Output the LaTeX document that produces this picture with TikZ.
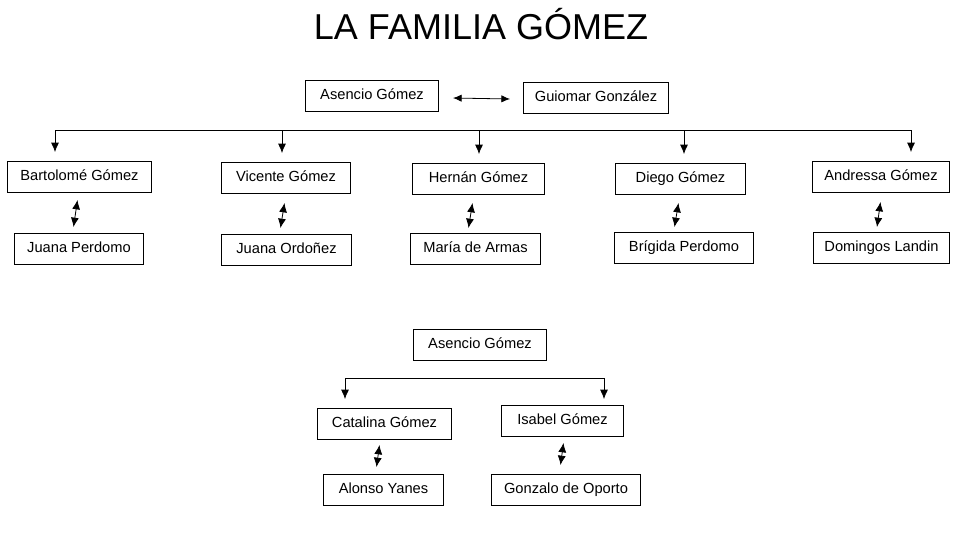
\documentclass[tikz,border=0pt]{standalone}
\usepackage{fontspec}
\setmainfont{Liberation Sans}
\usetikzlibrary{arrows.meta}

\tikzset{
  person/.style={draw, line width=0.75pt, anchor=north west, minimum width=#1,
    minimum height=23.25pt, inner sep=0pt, text height=8pt, text depth=2.75pt,
    font=\fontsize{11}{13}\selectfont},
  link/.style={line width=0.6pt, >={Latex[length=7pt,width=6pt]}}
}

\begin{document}
\begin{tikzpicture}[x=0.75pt, y=-0.75pt]
\useasboundingbox (0,0) rectangle (960,540);

% Title
\node[anchor=base, font=\fontsize{27}{32}\selectfont] (title) at (481,39) {LA FAMILIA GÓMEZ};

% Parents
\node[person=99.75pt] (asencio) at (305,80) {Asencio Gómez};
\node[person=108.75pt] (guiomar) at (523,82) {Guiomar González};

% Children
\node[person=108pt] (bartolome) at (7,161) {Bartolomé Gómez};
\node[person=96.75pt] (vicente) at (221,162) {Vicente Gómez};
\node[person=99pt] (hernan) at (412,163) {Hernán Gómez};
\node[person=97.5pt] (diego) at (615,163) {Diego Gómez};
\node[person=102.75pt] (andressa) at (812,161) {Andressa Gómez};

% Spouses
\node[person=96.75pt] (juanap) at (14,233) {Juana Perdomo};
\node[person=97.5pt] (juanao) at (221,234) {Juana Ordoñez};
\node[person=97.5pt] (maria) at (410,233) {María de Armas};
\node[person=104.25pt] (brigida) at (614,232) {Brígida Perdomo};
\node[person=102pt] (domingos) at (813,232) {Domingos Landin};

% Second tree
\node[person=99.75pt] (asencio2) at (413,329) {Asencio Gómez};
\node[person=100.5pt] (catalina) at (317,408) {Catalina Gómez};
\node[person=91.5pt] (isabel) at (501,405) {Isabel Gómez};
\node[person=90pt] (alonso) at (323,474) {Alonso Yanes};
\node[person=111.75pt] (gonzalo) at (491,474) {Gonzalo de Oporto};

% Marriage
\draw[link, <->, >={Latex[length=6.5pt,width=5.5pt]}] ([shift={(14,2)}]asencio.east) -- ([shift={(-13,1)}]guiomar.west);

% Bar to children
\coordinate (b1) at (55,130);
\coordinate (b2) at (282,130);
\coordinate (b3) at (479,130);
\coordinate (b4) at (684,130);
\coordinate (b5) at (911,130);
\draw[link] (b1) -- (b5);
\foreach \c/\n in {b1/bartolome, b2/vicente, b3/hernan, b4/diego, b5/andressa}
  \draw[link, ->, shorten >=6.75pt] (\c) -- (\c |- \n.north);

% Couples
\draw[link, <->] ([shift={(-2,7)}]bartolome.south) -- ([shift={(-5.5,-6)}]juanap.north);
\draw[link, <->] ([shift={(-1.5,9)}]vicente.south) -- ([shift={(-6,-6)}]juanao.north);
\draw[link, <->] ([shift={(-6,8)}]hernan.south) -- ([shift={(-7,-5)}]maria.north);
\draw[link, <->] ([shift={(-2,8)}]diego.south) -- ([shift={(-9.5,-5)}]brigida.north);
\draw[link, <->] ([shift={(-0.5,9)}]andressa.south) -- ([shift={(-4.5,-5)}]domingos.north);

% Bar to second children
\coordinate (c1) at (345,378);
\coordinate (c2) at (604,378);
\draw[link] (c1) -- (c2);
\draw[link, ->, shorten >=6.75pt] (c1) -- (c1 |- catalina.north);
\draw[link, ->, shorten >=4.5pt] (c2) -- (c2 |- isabel.north);

% Second couples
\draw[link, <->] ([shift={(-5,5)}]catalina.south) -- ([shift={(-7,-7)}]alonso.north);
\draw[link, <->] ([shift={(1,6)}]isabel.south) -- ([shift={(-5.5,-9)}]gonzalo.north);

\end{tikzpicture}
\end{document}
